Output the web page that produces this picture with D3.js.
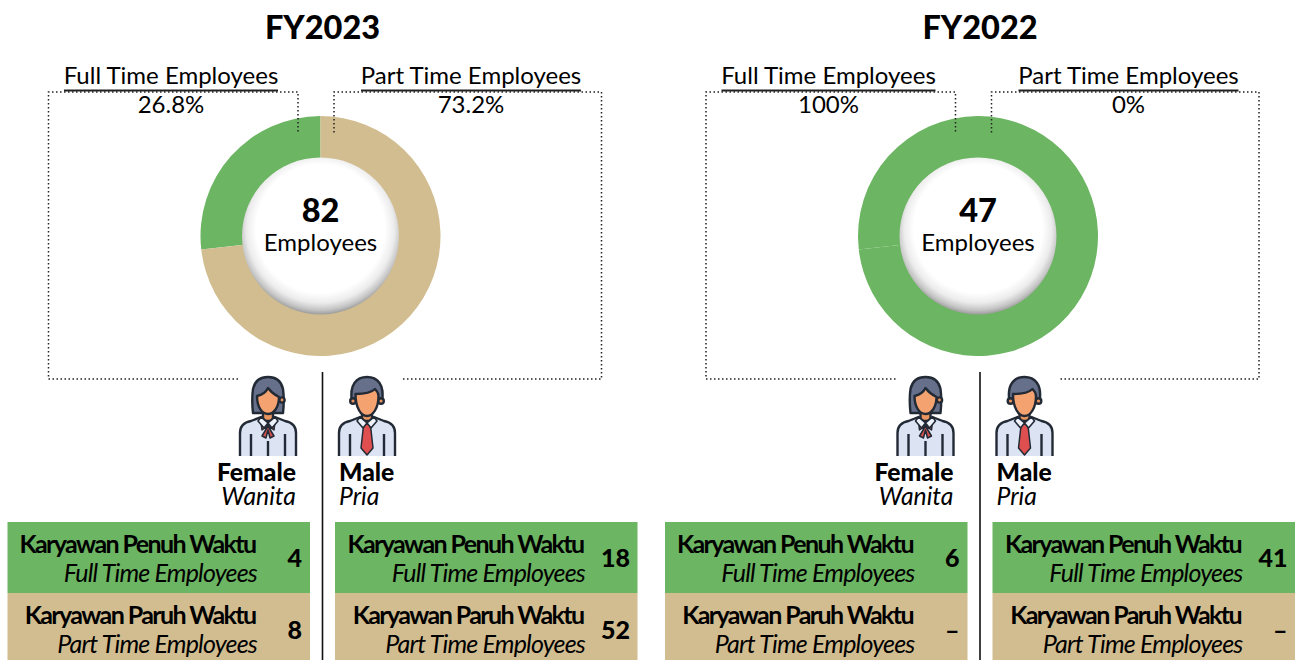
<!DOCTYPE html>
<html><head><meta charset="utf-8">
<script src="https://cdn.jsdelivr.net/npm/d3@7"></script>
<style>
html,body{margin:0;padding:0;background:#fff}
svg{display:block}
text{font-family:Lato,"Open Sans",sans-serif;fill:#000}
</style></head><body>
<svg id="c" width="1300" height="660"></svg>
<script>
const years = ["FY2023","FY2022"];
const totals = [82,47];
const fullShare = ["26.8%","100%"];
const partShare = ["73.2%","0%"];
const ringValues = [[26.8,73.2],[26.8,73.2]];
const ringColors = [["#6cb562","#d2bd90"],["#6cb562","#6cb562"]];
const femaleFull = ["4","6"];
const femalePart = ["8","–"];
const maleFull = ["18","41"];
const malePart = ["52","–"];
const rowLabels = ["Karyawan Penuh Waktu","Karyawan Paruh Waktu"];
const rowLabelsEn = ["Full Time Employees","Part Time Employees"];
const rowColors = ["#6cb562","#d2bd90"];
const ink = "#232a36";

const svg = d3.select("#c");
const defs = svg.append("defs");
const grad = defs.append("radialGradient").attr("id","disc")
  .attr("cx","50%").attr("cy","46%").attr("r","54%").attr("fx","50%").attr("fy","43%");
[[0,"#fff"],[.76,"#fff"],[.87,"#ececec"],[.95,"#c4c4c4"],[1,"#9c9c9c"]]
  .forEach(([o,c])=>grad.append("stop").attr("offset",o).attr("stop-color",c));
defs.append("filter").attr("id","soft").append("feGaussianBlur").attr("stdDeviation",.45);

function T(g,x,y,s,size,opts={}){
  return g.append("text").attr("x",x).attr("y",y).text(s)
    .attr("font-size",size)
    .attr("font-weight",opts.w||400)
    .attr("font-style",opts.i?"italic":"normal")
    .attr("text-anchor",opts.a||"middle")
    .attr("letter-spacing",opts.ls||0);
}
function person(g,cx,female){
  const p = g.append("g").attr("transform",`translate(${cx},376)`).attr("filter","url(#soft)")
    .attr("stroke",ink).attr("stroke-width",2.4).attr("stroke-linejoin","round");
  if(female){
    p.append("path").attr("fill","#66708a")
      .attr("d","M-15,37 C-16,28 -16,20 -15,13 C-13,4 -7,1 0,1 C7,1 13,4 15,13 C16,20 16,28 15,37 Z");
    p.append("circle").attr("cx",14).attr("cy",24).attr("r",2.6).attr("fill","#e8955f");
  } else {
    p.append("path").attr("fill","#66708a")
      .attr("d","M-15,26 C-18,8 -10,1 0,1 C10,1 18,8 15,26 Z");
    p.append("circle").attr("cx",-14).attr("cy",25).attr("r",2.8).attr("fill","#e8955f");
    p.append("circle").attr("cx",14).attr("cy",25).attr("r",2.8).attr("fill","#e8955f");
  }
  p.append("rect").attr("x",-5).attr("y",34).attr("width",10).attr("height",11).attr("fill","#e8955f");
  p.append("path").attr("fill","#f4a26f")
    .attr("d",female
      ? "M-11,20 C-6,19 -2,16 0,12 C3,16 7,19 11,21 C11,31 6,38 0,38 C-6,38 -11,31 -11,20 Z"
      : "M-11.5,18 C-6,18 4,17 8,13 C10,15 11.5,17 11.5,20 C11.5,32 6,40 0,40 C-6,40 -11.5,32 -11.5,18 Z");
  p.append("path").attr("fill","#dce4f4").attr("stroke","none")
    .attr("d","M-28,80 V57 Q-28,47 -17,45 L-7,41 L0,47 L7,41 L17,45 Q28,47 28,57 V80 Z");
  p.append("path").attr("fill","none")
    .attr("d","M-28,80 V57 Q-28,47 -17,45 L-7,41 L0,47 L7,41 L17,45 Q28,47 28,57 V80 M-17,80 V58 M17,80 V58");
  if(female){
    p.append("path").attr("fill","#d2504e").attr("stroke-width",1.5)
      .attr("d","M0,50 L-7,46 L-6,54 Z M0,50 L7,46 L6,54 Z M0,50 L-6,60 L-2,62 L0,54 L2,62 L6,60 Z");
    p.append("path").attr("fill","none").attr("d","M0,65 V80");
  } else {
    p.append("path").attr("fill","#e0504f").attr("stroke-width",1.5)
      .attr("d","M-3,48 H3 L4,54 L6,72 L0,79 L-6,72 L-4,54 Z");
  }
  p.append("path").attr("fill","#eef2fa").attr("stroke-width",1.6)
    .attr("d","M-7,41 L0,47 L-4,52 L-10,45 Z M7,41 L0,47 L4,52 L10,45 Z");
}
function table(g,x,w,textRight,valRight,vals){
  rowLabels.forEach((lab,i)=>{
    const y = i===0?522:593, h = i===0?71:67;
    g.append("rect").attr("x",x).attr("y",y).attr("width",w).attr("height",h).attr("fill",rowColors[i]);
    T(g,textRight-.5,y+30.5,lab,25,{w:700,a:"end",ls:-1.6}).attr("fill","#0a0a0a");
    T(g,textRight+1,y+60,rowLabelsEn[i],25,{i:true,a:"end",ls:-.8});
    T(g,valRight,y+45+i,vals[i],25,{w:900,a:"end"});
  });
}

const pie = d3.pie().sort(null).startAngle(-96.48*Math.PI/180).endAngle(263.52*Math.PI/180);
const arc = d3.arc().innerRadius(70).outerRadius(120);

years.forEach((yr,k)=>{
  const dx = k*657.5;
  const g = svg.append("g").attr("transform",`translate(${dx},0)`);
  T(g,322.5,39,yr,32.5,{w:900});

  const dots = g.append("path").attr("fill","none").attr("stroke","#222")
    .attr("stroke-width",1.5).attr("stroke-dasharray","1.5 2.5")
    .attr("d","M238,379 H48.5 V92 H298 V134 M403,379 H601.5 V92 H334 V134");

  [["Full Time Employees",171,fullShare[k],64,278],["Part Time Employees",471,partShare[k],361,581]]
  .forEach(([lab,cx,val,x0,x1])=>{
    T(g,cx,84,lab,24);
    g.append("line").attr("x1",x0).attr("x2",x1).attr("y1",90.5).attr("y2",90.5)
      .attr("stroke","#222").attr("stroke-width",2);
    T(g,cx,113,val,24);
  });

  const d = g.append("g").attr("transform","translate(320.5,236)");
  d.selectAll("path").data(pie(ringValues[k])).join("path")
    .attr("d",arc).attr("fill",(a,i)=>ringColors[k][i]);
  dots.raise();
  d.append("circle").attr("r",78.5).attr("fill","url(#disc)");
  T(d,0,-14.5,String(totals[k]),32.5,{w:900});
  T(d,0,15,"Employees",24);

  g.append("line").attr("x1",322.5).attr("x2",322.5).attr("y1",372).attr("y2",660)
    .attr("stroke","#111").attr("stroke-width",1.6);
  person(g,268,true);
  person(g,367,false);
  T(g,296,481,"Female",24.7,{w:900,a:"end"});
  T(g,296,505,"Wanita",24.7,{i:true,a:"end"});
  T(g,339,481,"Male",24.7,{w:900,a:"start"});
  T(g,339,505,"Pria",24.7,{i:true,a:"start"});

  table(g,7.5,302.5,256,302,[femaleFull[k],femalePart[k]]);
  table(g,335,302.5,584,630,[maleFull[k],malePart[k]]);
});
</script></body></html>
